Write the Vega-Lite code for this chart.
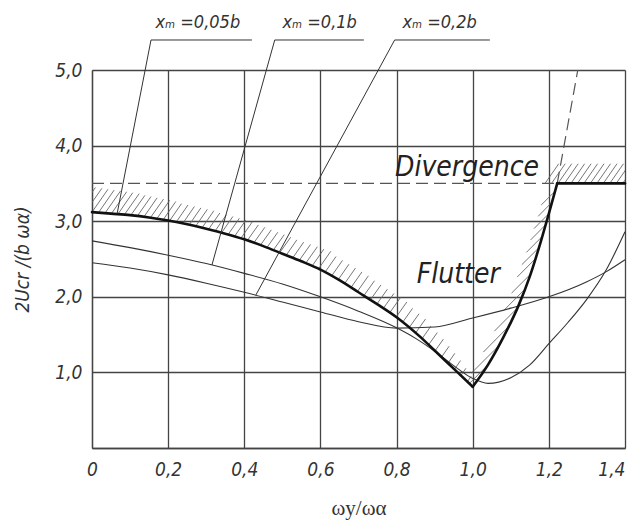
{
  "$schema": "https://vega.github.io/schema/vega-lite/v6.json",
  "width": 533,
  "height": 378,
  "autosize": {"type": "none"},
  "padding": {"left": 92, "top": 70, "right": 5, "bottom": 79},
  "background": "white",
  "config": {
    "view": {"stroke": null},
    "axis": {
      "grid": true, "ticks": false,
      "domainColor": "#444", "domainWidth": 1.3,
      "gridColor": "#444", "gridWidth": 1.3, "gridOpacity": 1,
      "labelFont": "DejaVu Sans Condensed, Liberation Sans Narrow, sans-serif",
      "labelFontStyle": "italic", "labelFontSize": 19, "labelColor": "#333",
      "labelFlush": false, "labelOverlap": false, "labelBound": false,
      "titleColor": "#333", "titleFontWeight": "normal"
    }
  },
  "encoding": {
    "x": {
      "field": "x", "type": "quantitative",
      "scale": {"domain": [0, 1.4], "nice": false, "zero": false},
      "axis": {
        "values": [0, 0.2, 0.4, 0.6, 0.8, 1, 1.2, 1.4],
        "labelExpr": "datum.value == 0 ? '0' : replace(format(datum.value, '.1f'), '.', ',')",
        "labelPadding": 12, "labelDx": -3,
        "labelAlign": {"condition": {"test": "datum.value == 1.4", "value": "right"}, "value": "center"},
        "title": "ωy/ωα",
        "titleFont": "Liberation Serif, DejaVu Serif, serif", "titleFontSize": 21, "titlePadding": 18
      }
    },
    "y": {
      "field": "y", "type": "quantitative",
      "scale": {"domain": [0, 5], "nice": false, "zero": false},
      "axis": {
        "values": [0, 1, 2, 3, 4, 5],
        "labelExpr": "datum.value == 0 ? '' : replace(format(datum.value, '.1f'), '.', ',')",
        "labelPadding": 10, "labelBaseline": "middle",
        "title": "2Ucr /(b ωα)",
        "titleFont": "DejaVu Sans Condensed, Liberation Sans Narrow, sans-serif",
        "titleFontStyle": "italic", "titleFontSize": 19,
        "titleX": -70, "titleBaseline": "middle", "titleAlign": "center"
      }
    }
  },
  "layer": [
    {
      "data": {"values": [
        {"x": -0.034, "y": 3.134, "x2": 0.009, "y2": 3.446},
        {"x": -0.017, "y": 3.127, "x2": 0.026, "y2": 3.435},
        {"x": 0.000, "y": 3.120, "x2": 0.042, "y2": 3.423},
        {"x": 0.017, "y": 3.113, "x2": 0.058, "y2": 3.411},
        {"x": 0.034, "y": 3.106, "x2": 0.075, "y2": 3.400},
        {"x": 0.051, "y": 3.100, "x2": 0.091, "y2": 3.389},
        {"x": 0.068, "y": 3.093, "x2": 0.107, "y2": 3.377},
        {"x": 0.085, "y": 3.086, "x2": 0.124, "y2": 3.365},
        {"x": 0.102, "y": 3.079, "x2": 0.139, "y2": 3.342},
        {"x": 0.119, "y": 3.067, "x2": 0.155, "y2": 3.326},
        {"x": 0.136, "y": 3.055, "x2": 0.171, "y2": 3.309},
        {"x": 0.153, "y": 3.043, "x2": 0.188, "y2": 3.293},
        {"x": 0.170, "y": 3.031, "x2": 0.204, "y2": 3.276},
        {"x": 0.187, "y": 3.019, "x2": 0.220, "y2": 3.260},
        {"x": 0.204, "y": 3.006, "x2": 0.235, "y2": 3.232},
        {"x": 0.221, "y": 2.987, "x2": 0.252, "y2": 3.213},
        {"x": 0.238, "y": 2.968, "x2": 0.269, "y2": 3.194},
        {"x": 0.255, "y": 2.950, "x2": 0.286, "y2": 3.176},
        {"x": 0.272, "y": 2.931, "x2": 0.303, "y2": 3.157},
        {"x": 0.289, "y": 2.912, "x2": 0.320, "y2": 3.138},
        {"x": 0.306, "y": 2.892, "x2": 0.336, "y2": 3.110},
        {"x": 0.323, "y": 2.868, "x2": 0.353, "y2": 3.086},
        {"x": 0.340, "y": 2.844, "x2": 0.370, "y2": 3.062},
        {"x": 0.357, "y": 2.820, "x2": 0.387, "y2": 3.038},
        {"x": 0.374, "y": 2.796, "x2": 0.404, "y2": 3.014},
        {"x": 0.391, "y": 2.773, "x2": 0.421, "y2": 2.991},
        {"x": 0.408, "y": 2.745, "x2": 0.437, "y2": 2.951},
        {"x": 0.425, "y": 2.713, "x2": 0.454, "y2": 2.919},
        {"x": 0.442, "y": 2.680, "x2": 0.471, "y2": 2.886},
        {"x": 0.459, "y": 2.648, "x2": 0.488, "y2": 2.854},
        {"x": 0.476, "y": 2.616, "x2": 0.505, "y2": 2.822},
        {"x": 0.493, "y": 2.583, "x2": 0.522, "y2": 2.789},
        {"x": 0.510, "y": 2.549, "x2": 0.538, "y2": 2.753},
        {"x": 0.527, "y": 2.513, "x2": 0.556, "y2": 2.723},
        {"x": 0.544, "y": 2.478, "x2": 0.574, "y2": 2.693},
        {"x": 0.561, "y": 2.442, "x2": 0.592, "y2": 2.662},
        {"x": 0.578, "y": 2.406, "x2": 0.609, "y2": 2.631},
        {"x": 0.595, "y": 2.370, "x2": 0.627, "y2": 2.601},
        {"x": 0.612, "y": 2.324, "x2": 0.641, "y2": 2.533},
        {"x": 0.629, "y": 2.273, "x2": 0.658, "y2": 2.482},
        {"x": 0.646, "y": 2.222, "x2": 0.675, "y2": 2.431},
        {"x": 0.663, "y": 2.171, "x2": 0.692, "y2": 2.380},
        {"x": 0.680, "y": 2.120, "x2": 0.709, "y2": 2.329},
        {"x": 0.697, "y": 2.069, "x2": 0.726, "y2": 2.278},
        {"x": 0.714, "y": 2.014, "x2": 0.742, "y2": 2.213},
        {"x": 0.731, "y": 1.958, "x2": 0.759, "y2": 2.157},
        {"x": 0.748, "y": 1.902, "x2": 0.776, "y2": 2.101},
        {"x": 0.765, "y": 1.845, "x2": 0.793, "y2": 2.044},
        {"x": 0.782, "y": 1.789, "x2": 0.810, "y2": 1.988},
        {"x": 0.799, "y": 1.733, "x2": 0.827, "y2": 1.932},
        {"x": 0.816, "y": 1.663, "x2": 0.842, "y2": 1.847},
        {"x": 0.833, "y": 1.592, "x2": 0.859, "y2": 1.776},
        {"x": 0.850, "y": 1.522, "x2": 0.876, "y2": 1.706},
        {"x": 0.867, "y": 1.446, "x2": 0.890, "y2": 1.611},
        {"x": 0.884, "y": 1.365, "x2": 0.907, "y2": 1.527},
        {"x": 0.901, "y": 1.284, "x2": 0.923, "y2": 1.440},
        {"x": 0.918, "y": 1.202, "x2": 0.938, "y2": 1.346},
        {"x": 0.935, "y": 1.121, "x2": 0.953, "y2": 1.253},
        {"x": 0.952, "y": 1.040, "x2": 0.968, "y2": 1.157},
        {"x": 0.969, "y": 0.958, "x2": 0.982, "y2": 1.054},
        {"x": 0.986, "y": 0.877, "x2": 0.996, "y2": 0.949},
        {"x": 0.993, "y": 0.862, "x2": 1.040, "y2": 1.100},
        {"x": 0.997, "y": 0.993, "x2": 1.068, "y2": 1.350},
        {"x": 1.028, "y": 1.269, "x2": 1.093, "y2": 1.600},
        {"x": 1.057, "y": 1.546, "x2": 1.117, "y2": 1.850},
        {"x": 1.082, "y": 1.822, "x2": 1.137, "y2": 2.100},
        {"x": 1.102, "y": 2.049, "x2": 1.152, "y2": 2.300},
        {"x": 1.117, "y": 2.262, "x2": 1.164, "y2": 2.500},
        {"x": 1.129, "y": 2.425, "x2": 1.174, "y2": 2.650},
        {"x": 1.141, "y": 2.588, "x2": 1.183, "y2": 2.800},
        {"x": 1.152, "y": 2.752, "x2": 1.191, "y2": 2.950},
        {"x": 1.161, "y": 2.902, "x2": 1.200, "y2": 3.100},
        {"x": 1.172, "y": 3.065, "x2": 1.208, "y2": 3.250},
        {"x": 1.180, "y": 3.215, "x2": 1.217, "y2": 3.400},
        {"x": 1.190, "y": 3.5, "x2": 1.226, "y2": 3.76},
        {"x": 1.207, "y": 3.5, "x2": 1.243, "y2": 3.76},
        {"x": 1.224, "y": 3.5, "x2": 1.260, "y2": 3.76},
        {"x": 1.241, "y": 3.5, "x2": 1.277, "y2": 3.76},
        {"x": 1.258, "y": 3.5, "x2": 1.294, "y2": 3.76},
        {"x": 1.275, "y": 3.5, "x2": 1.311, "y2": 3.76},
        {"x": 1.292, "y": 3.5, "x2": 1.328, "y2": 3.76},
        {"x": 1.309, "y": 3.5, "x2": 1.345, "y2": 3.76},
        {"x": 1.326, "y": 3.5, "x2": 1.362, "y2": 3.76},
        {"x": 1.343, "y": 3.5, "x2": 1.379, "y2": 3.76},
        {"x": 1.360, "y": 3.5, "x2": 1.396, "y2": 3.76},
        {"x": 1.377, "y": 3.5, "x2": 1.413, "y2": 3.76},
        {"x": 1.394, "y": 3.5, "x2": 1.430, "y2": 3.76}
      ]},
      "mark": {"type": "rule", "color": "#666", "strokeWidth": 0.9, "clip": true},
      "encoding": {"x2": {"field": "x2"}, "y2": {"field": "y2"}}
    },
    {
      "data": {"values": [
        {"x": 0, "y": 3.5, "x2": 1.222, "y2": 3.5},
        {"x": 1.222, "y": 3.5, "x2": 1.276, "y2": 5.0}
      ]},
      "mark": {"type": "rule", "color": "#555", "strokeWidth": 1.2, "strokeDash": [12, 6]},
      "encoding": {"x2": {"field": "x2"}, "y2": {"field": "y2"}}
    },
    {
      "data": {"values": [
        {"curve": "0.1b", "x": 0, "y": 2.74}, {"curve": "0.1b", "x": 0.1, "y": 2.65},
        {"curve": "0.1b", "x": 0.2, "y": 2.55}, {"curve": "0.1b", "x": 0.3, "y": 2.44},
        {"curve": "0.1b", "x": 0.4, "y": 2.31}, {"curve": "0.1b", "x": 0.5, "y": 2.17},
        {"curve": "0.1b", "x": 0.6, "y": 2.0}, {"curve": "0.1b", "x": 0.7, "y": 1.81},
        {"curve": "0.1b", "x": 0.8, "y": 1.59}, {"curve": "0.1b", "x": 0.85, "y": 1.45},
        {"curve": "0.1b", "x": 0.9, "y": 1.28}, {"curve": "0.1b", "x": 0.95, "y": 1.09},
        {"curve": "0.1b", "x": 1.0, "y": 0.92}, {"curve": "0.1b", "x": 1.04, "y": 0.855},
        {"curve": "0.1b", "x": 1.1, "y": 0.93}, {"curve": "0.1b", "x": 1.15, "y": 1.1},
        {"curve": "0.1b", "x": 1.2, "y": 1.38}, {"curve": "0.1b", "x": 1.25, "y": 1.66},
        {"curve": "0.1b", "x": 1.3, "y": 1.97}, {"curve": "0.1b", "x": 1.35, "y": 2.35},
        {"curve": "0.1b", "x": 1.4, "y": 2.86},
        {"curve": "0.2b", "x": 0, "y": 2.45}, {"curve": "0.2b", "x": 0.1, "y": 2.38},
        {"curve": "0.2b", "x": 0.2, "y": 2.29}, {"curve": "0.2b", "x": 0.3, "y": 2.18},
        {"curve": "0.2b", "x": 0.4, "y": 2.06}, {"curve": "0.2b", "x": 0.5, "y": 1.93},
        {"curve": "0.2b", "x": 0.6, "y": 1.8}, {"curve": "0.2b", "x": 0.7, "y": 1.67},
        {"curve": "0.2b", "x": 0.8, "y": 1.585}, {"curve": "0.2b", "x": 0.9, "y": 1.6},
        {"curve": "0.2b", "x": 1.0, "y": 1.72}, {"curve": "0.2b", "x": 1.1, "y": 1.85},
        {"curve": "0.2b", "x": 1.2, "y": 2.0}, {"curve": "0.2b", "x": 1.3, "y": 2.2},
        {"curve": "0.2b", "x": 1.35, "y": 2.33}, {"curve": "0.2b", "x": 1.4, "y": 2.49}
      ]},
      "mark": {"type": "line", "color": "#333", "strokeWidth": 1.1, "interpolate": "monotone"},
      "encoding": {"detail": {"field": "curve"}}
    },
    {
      "data": {"values": [
        {"seg": "L", "x": 0, "y": 3.12}, {"seg": "L", "x": 0.05, "y": 3.1},
        {"seg": "L", "x": 0.1, "y": 3.08}, {"seg": "L", "x": 0.15, "y": 3.05},
        {"seg": "L", "x": 0.2, "y": 3.01}, {"seg": "L", "x": 0.25, "y": 2.96},
        {"seg": "L", "x": 0.3, "y": 2.9}, {"seg": "L", "x": 0.35, "y": 2.835},
        {"seg": "L", "x": 0.4, "y": 2.76}, {"seg": "L", "x": 0.45, "y": 2.67},
        {"seg": "L", "x": 0.5, "y": 2.57}, {"seg": "L", "x": 0.55, "y": 2.47},
        {"seg": "L", "x": 0.6, "y": 2.36}, {"seg": "L", "x": 0.65, "y": 2.22},
        {"seg": "L", "x": 0.7, "y": 2.06}, {"seg": "L", "x": 0.75, "y": 1.9},
        {"seg": "L", "x": 0.8, "y": 1.73}, {"seg": "L", "x": 0.86, "y": 1.48},
        {"seg": "L", "x": 0.9, "y": 1.29}, {"seg": "L", "x": 0.95, "y": 1.05},
        {"seg": "L", "x": 1.0, "y": 0.81},
        {"seg": "R", "x": 1.0, "y": 0.81}, {"seg": "R", "x": 1.04, "y": 1.1},
        {"seg": "R", "x": 1.08, "y": 1.46}, {"seg": "R", "x": 1.12, "y": 1.88},
        {"seg": "R", "x": 1.15, "y": 2.27}, {"seg": "R", "x": 1.18, "y": 2.75},
        {"seg": "R", "x": 1.2, "y": 3.1}, {"seg": "R", "x": 1.222, "y": 3.5},
        {"seg": "F", "x": 1.222, "y": 3.5}, {"seg": "F", "x": 1.4, "y": 3.5}
      ]},
      "mark": {"type": "line", "color": "#111", "strokeWidth": 2.6, "interpolate": "monotone", "strokeCap": "round", "strokeJoin": "round"},
      "encoding": {"detail": {"field": "seg"}}
    },
    {
      "data": {"values": [
        {"x": 0.155, "y": 5.397, "x2": 0.42, "y2": 5.397},
        {"x": 0.155, "y": 5.397, "x2": 0.066, "y2": 3.1},
        {"x": 0.48, "y": 5.397, "x2": 0.714, "y2": 5.397},
        {"x": 0.48, "y": 5.397, "x2": 0.315, "y2": 2.42},
        {"x": 0.795, "y": 5.397, "x2": 1.045, "y2": 5.397},
        {"x": 0.795, "y": 5.397, "x2": 0.43, "y2": 2.02}
      ]},
      "mark": {"type": "rule", "color": "#333", "strokeWidth": 1, "clip": false},
      "encoding": {"x2": {"field": "x2"}, "y2": {"field": "y2"}}
    },
    {
      "data": {"values": [
        {"x": 0.278, "y": 5.556, "label": "xₘ =0,05b"},
        {"x": 0.598, "y": 5.556, "label": "xₘ =0,1b"},
        {"x": 0.913, "y": 5.556, "label": "xₘ =0,2b"}
      ]},
      "mark": {"type": "text", "font": "DejaVu Sans Condensed, Liberation Sans Narrow, sans-serif", "fontStyle": "italic", "fontSize": 18, "color": "#333", "align": "center", "baseline": "alphabetic", "clip": false},
      "encoding": {"text": {"field": "label"}}
    },
    {
      "data": {"values": [
        {"x": 0.985, "y": 3.6, "label": "Divergence"},
        {"x": 0.962, "y": 2.18, "label": "Flutter"}
      ]},
      "mark": {"type": "text", "font": "DejaVu Sans Condensed, Liberation Sans Narrow, sans-serif", "fontStyle": "italic", "fontSize": 28, "color": "#222", "align": "center", "baseline": "alphabetic"},
      "encoding": {"text": {"field": "label"}}
    }
  ]
}
